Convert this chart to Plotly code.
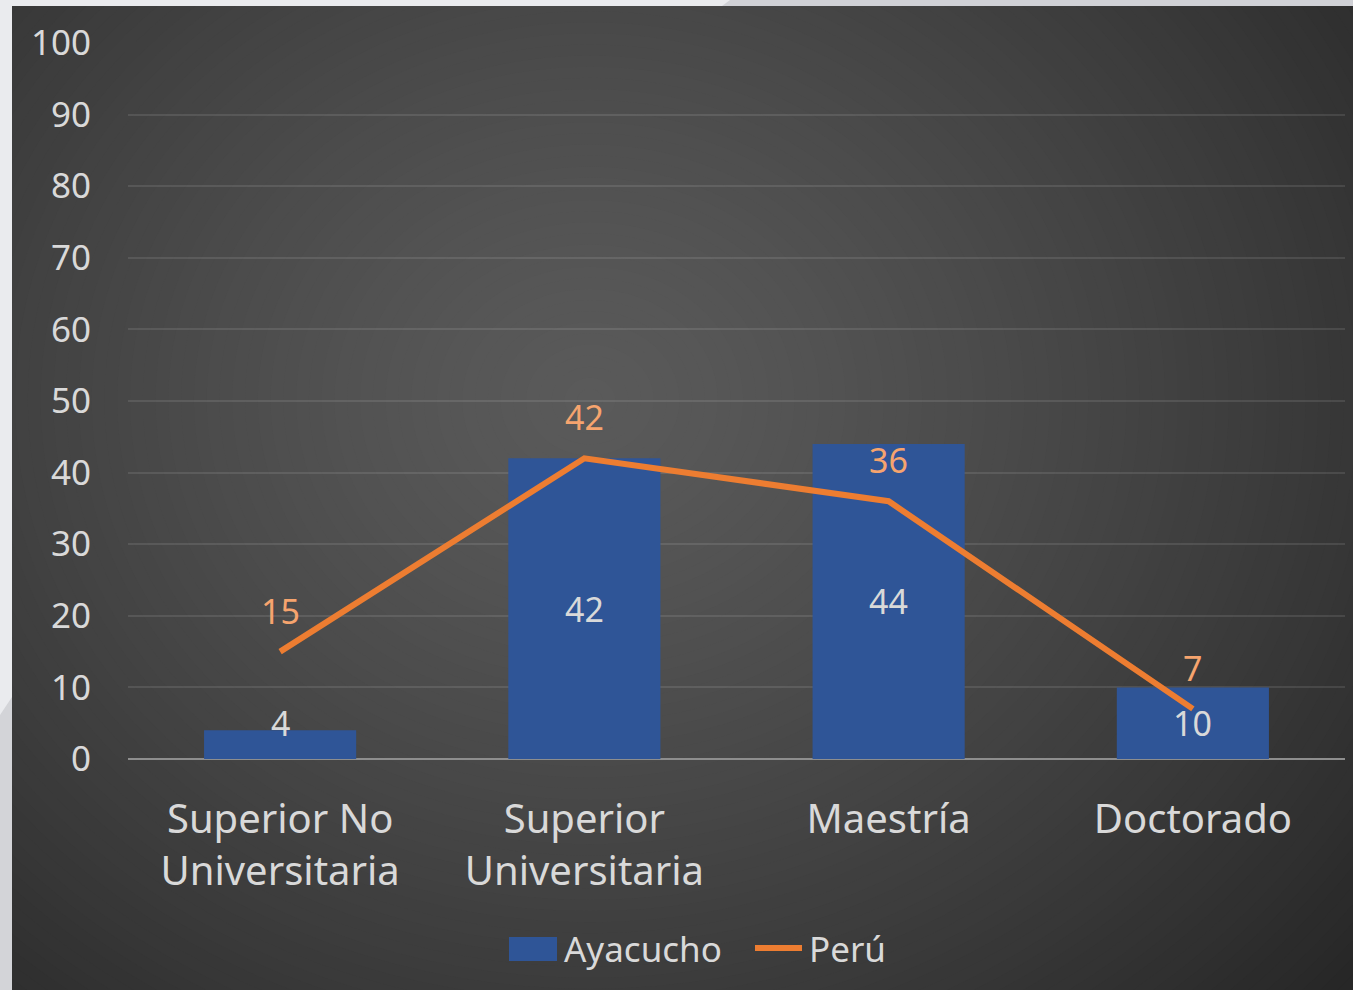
import plotly.graph_objects as go

# --- data -----------------------------------------------------------------
categories = ["Superior No<br>Universitaria", "Superior<br>Universitaria", "Maestría", "Doctorado"]
ayacucho = [4, 42, 44, 10]
peru = [15, 42, 36, 7]
y_ticks = [0, 10, 20, 30, 40, 50, 60, 70, 80, 90, 100]

# --- style ------------------------------------------------------------------
W, H = 1353, 990
L, R, T, B = 128, 8, 43, 231
PW, PH = W - L - R, H - T - B
FONT = "Noto Sans"
BLUE = "#2F5597"
ORANGE = "#ED7D31"
ORANGE_LBL = "#F6A46E"
TXT = "#D9D9D9"


# screen pixel -> paper coordinate
def xp(px):
    return (px - L) / PW


def yp(py):
    return (H - B - py) / PH


def gray(v):
    v = int(round(v))
    return f"rgb({v},{v},{v})"


shapes = []

# radial-ish background (concentric ellipses, dark edge -> light centre)
cx, cy = 590, 400
rmax, n = 1000, 90
c_in, c_out = 90, 30
for k in range(n, 0, -1):
    f = k / n
    r = rmax * f
    shapes.append(dict(
        type="circle", xref="paper", yref="paper", layer="below",
        x0=xp(cx - r * 1.15), x1=xp(cx + r * 1.15),
        y0=yp(cy + r), y1=yp(cy - r),
        fillcolor=gray(c_in + (c_out - c_in) * f ** 1.3), line_width=0,
    ))


def poly(pts, color):
    d = "M " + " L ".join(f"{xp(x)},{yp(y)}" for x, y in pts) + " Z"
    return dict(type="path", xref="paper", yref="paper", layer="below",
                path=d, fillcolor=color, line_width=0)


# light frame strips (left and top)
shapes.append(poly([(0, 0), (12, 0), (12, H), (0, H)], "#D3D4D8"))
shapes.append(poly([(0, 0), (12, 0), (12, 697), (0, 715)], "#EAEBEE"))
shapes.append(poly([(0, 0), (W, 0), (W, 6), (0, 6)], "#D0D1D6"))
shapes.append(poly([(0, 0), (730, 0), (722, 6), (0, 6)], "#EAEBEE"))

# legend (drawn manually)
shapes.append(dict(type="rect", xref="paper", yref="paper",
                   x0=xp(509), x1=xp(557), y0=yp(961), y1=yp(937),
                   fillcolor=BLUE, line_width=0))
shapes.append(dict(type="line", xref="paper", yref="paper",
                   x0=xp(755), x1=xp(802), y0=yp(948), y1=yp(948),
                   line=dict(color=ORANGE, width=6)))

fig = go.Figure()

fig.add_trace(go.Bar(
    x=categories, y=ayacucho, name="Ayacucho",
    marker=dict(color=BLUE, line_width=0), width=0.5,
))
fig.add_trace(go.Scatter(
    x=categories, y=peru, name="Perú", mode="lines",
    line=dict(color=ORANGE, width=6),
))

annotations = []
# Ayacucho labels centred in bars (small bar label lifted)
bar_shift = [22, 0, 0, 0]
for c, v, s in zip(categories, ayacucho, bar_shift):
    annotations.append(dict(
        x=c, y=v / 2, text=str(v), showarrow=False, yshift=s,
        font=dict(family=FONT, size=34, color=TXT), yanchor="middle",
    ))
# Perú labels above points
for c, v in zip(categories, peru):
    annotations.append(dict(
        x=c, y=v, text=str(v), showarrow=False, yshift=41,
        font=dict(family=FONT, size=34, color=ORANGE_LBL), yanchor="middle",
    ))
# legend texts
annotations.append(dict(x=xp(562), y=yp(948), xref="paper", yref="paper",
                        text="Ayacucho", showarrow=False, xanchor="left", yanchor="middle",
                        font=dict(family=FONT, size=35, color=TXT)))
annotations.append(dict(x=xp(807), y=yp(948), xref="paper", yref="paper",
                        text="Perú", showarrow=False, xanchor="left", yanchor="middle",
                        font=dict(family=FONT, size=35, color=TXT)))

fig.update_layout(
    width=W, height=H,
    margin=dict(l=L, r=R, t=T, b=B),
    paper_bgcolor="#EAEBEE",
    plot_bgcolor="rgba(0,0,0,0)",
    showlegend=False,
    shapes=shapes,
    annotations=annotations,
    font=dict(family=FONT, color=TXT),
)
fig.update_xaxes(
    showgrid=False, showline=False, ticks="",
    tickfont=dict(family=FONT, size=40, color=TXT),
    ticklabelstandoff=33,
)
fig.update_yaxes(
    range=[0, 100], tickvals=y_ticks,
    showgrid=True, gridcolor="rgba(255,255,255,0.10)", gridwidth=1.5,
    zeroline=True, zerolinecolor="#8E8E8E", zerolinewidth=2,
    showline=False, ticks="",
    tickfont=dict(family=FONT, size=35, color=TXT),
    ticklabelstandoff=36,
)

# drop the default page margin so the figure fills the window exactly
fig.write_html(
    "out.html",
    config={"displayModeBar": False},
    post_script="document.body.style.margin='0';",
)
